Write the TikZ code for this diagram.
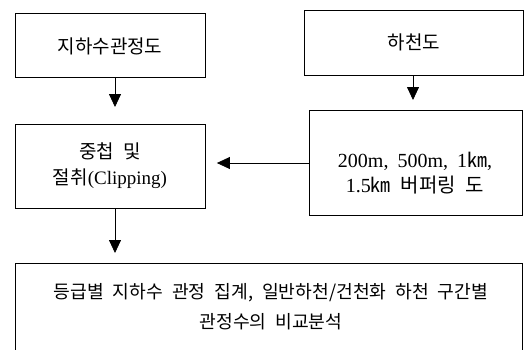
\documentclass[tikz,border=0pt]{standalone}
\usepackage{fontspec}
\setmainfont{Liberation Serif}[WordSpace=1.8]
\newfontfamily\kr{Noto Sans CJK KR}[WordSpace=2.2]
\usetikzlibrary{arrows.meta}
\begin{document}
\begin{tikzpicture}[x=1pt,y=-1pt,
  box/.style={draw,line width=0.9pt,inner sep=0pt,anchor=north west},
  txt/.style={inner sep=0pt,align=center,font=\fontsize{19}{26}\selectfont},
  arr/.style={line width=0.8pt,-{Triangle[width=12pt,length=13pt]}}]
\useasboundingbox (0,0) rectangle (527,349);
\node[box,minimum width=190pt,minimum height=64pt] (a) at (15,13) {};
\node[txt] (at) at (110,46) {\kr 지하수관정도};
\node[box,minimum width=219pt,minimum height=65pt] (b) at (304,10) {};
\node[txt] (bt) at (414,42) {\kr 하천도};
\node[box,minimum width=190pt,minimum height=84pt] (c) at (15,124) {};
\node[txt] (ct) at (110,166) {{\kr 중첩 및}\\{\kr 절취}(Clipping)};
\node[box,minimum width=213pt,minimum height=105pt] (d) at (309,110) {};
\node[txt,font=\fontsize{20}{25.5}\selectfont] (dt) at (415,173) {200m, 500m, 1{\kr ㎞},\\1.5{\kr ㎞ 버퍼링 도}};
\node[box,minimum width=507pt,minimum height=100pt] (e) at (15,263) {};
\node[txt,font=\fontsize{18.2}{30}\selectfont] (et) at (271,307) {{\kr 등급별 지하수 관정 집계, 일반하천/건천화 하천 구간별}\\{\kr 관정수의 비교분석}};
\draw[arr,shorten >=17pt] (a.south -| 115,0) -- (c.north -| 115,0);
\draw[arr,shorten >=10pt] (b.south -| 413,0) -- (d.north -| 413,0);
\draw[arr,shorten >=11pt] (d.west |- 0,163) -- (c.east |- 0,163);
\draw[arr,shorten >=10pt] (c.south -| 115,0) -- (e.north -| 115,0);
\end{tikzpicture}
\end{document}
